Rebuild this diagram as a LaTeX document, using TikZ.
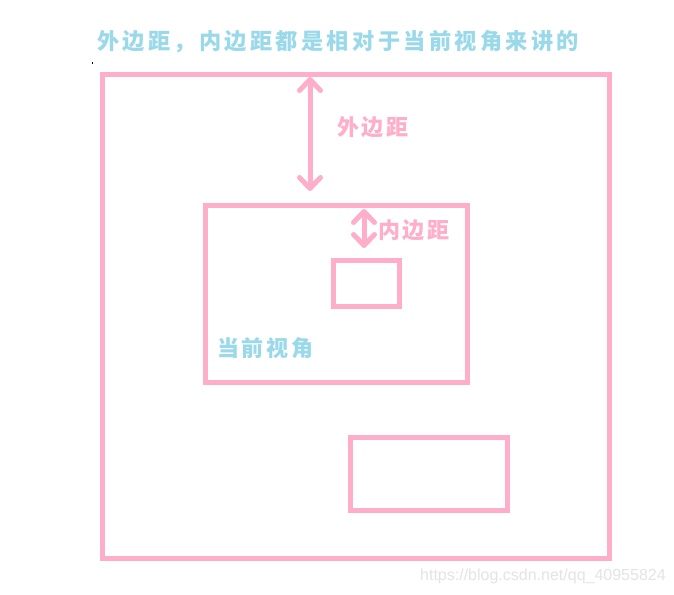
\documentclass[tikz,border=0pt]{standalone}
\usepackage{fontspec}
\newfontfamily\cjk{Noto Sans CJK SC}[LetterSpace=12]
\newfontfamily\cjktitle{Noto Sans CJK SC}[LetterSpace=15]
\setsansfont{Liberation Sans}
\usetikzlibrary{arrows.meta}
\definecolor{rose}{RGB}{255,174,201}
\definecolor{sky}{RGB}{153,217,234}
\definecolor{wmgray}{RGB}{228,228,228}
\tikzset{
  box/.style={draw=rose,line width=5pt},
  dimarrow/.style={draw=rose,line width=5pt,line cap=round,
    {Straight Barb[length=11pt,width=21pt,line cap=round,line join=round]}-{Straight Barb[length=11pt,width=21pt,line cap=round,line join=round]}},
  pinklabel/.style={text=rose,font=\cjk\bfseries\fontsize{22}{24}\selectfont,inner sep=0pt,anchor=west},
  bluelabel/.style={text=sky,font=\cjk\bfseries\fontsize{22}{24}\selectfont,inner sep=0pt,anchor=west},
}
\begin{document}
\begin{tikzpicture}[x=1pt,y=-1pt]
\useasboundingbox[fill=white] (0,0) rectangle (674,594);
% title
\node[bluelabel,font=\cjktitle\bfseries\fontsize{22.2}{24}\selectfont] (title) at (97,42) {外边距，内边距都是相对于当前视角来讲的};
% stray dot
\fill[black] (91.5,62.5) rectangle (93,64);
% rectangles
\draw[box] (102.5,74) rectangle (609.5,558);
\draw[box] (205.5,205.5) rectangle (467.5,382.5);
\draw[box] (333.5,260.5) rectangle (399,306);
\draw[box] (350.5,437.5) rectangle (507.5,510);
% arrow ends
\coordinate (a1t) at (310,77);
\coordinate (a1b) at (310,191);
\coordinate (a2t) at (364,209);
\coordinate (a2b) at (364,248);
\draw[dimarrow] (a1t) -- (a1b);
\draw[dimarrow] (a2t) -- (a2b);
% labels
\node[pinklabel] (outer) at (337,127) {外边距};
\node[pinklabel] (inner) at (378,230) {内边距};
\node[bluelabel] (view) at (217,348) {当前视角};
% watermark
\node[text=wmgray,font=\sffamily\fontsize{16}{18}\selectfont,inner sep=0pt,anchor=west] (wm) at (420,576) {https://blog.csdn.net/qq\_40955824};
\end{tikzpicture}
\end{document}
